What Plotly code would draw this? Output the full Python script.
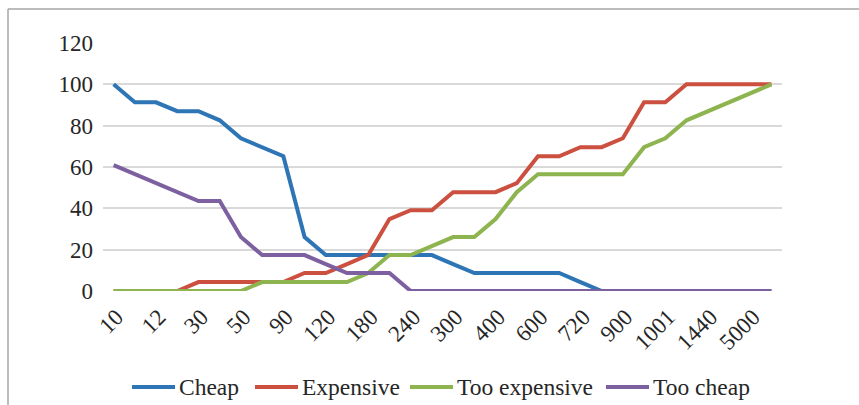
import plotly.graph_objects as go

categories = ["10", "11", "12", "20", "30", "40", "50", "60", "90", "100",
              "120", "150", "180", "200", "240", "250", "300", "360", "400", "500",
              "600", "700", "720", "800", "900", "1000", "1001", "1200", "1440", "2000",
              "5000", "10000"]
tick_labels = ["10", "12", "30", "50", "90", "120", "180", "240", "300", "400",
               "600", "720", "900", "1001", "1440", "5000"]

cheap = [100, 91.3, 91.3, 87.0, 87.0, 82.6, 73.9, 69.6, 65.2, 26.1,
         17.4, 17.4, 17.4, 17.4, 17.4, 17.4, 13.0, 8.7, 8.7, 8.7,
         8.7, 8.7, 4.3, 0, 0, 0, 0, 0, 0, 0, 0, 0]
expensive = [0, 0, 0, 0, 4.3, 4.3, 4.3, 4.3, 4.3, 8.7,
             8.7, 13.0, 17.4, 34.8, 39.1, 39.1, 47.8, 47.8, 47.8, 52.2,
             65.2, 65.2, 69.6, 69.6, 73.9, 91.3, 91.3, 100, 100, 100, 100, 100]
too_expensive = [0, 0, 0, 0, 0, 0, 0, 4.3, 4.3, 4.3,
                 4.3, 4.3, 8.7, 17.4, 17.4, 21.7, 26.1, 26.1, 34.8, 47.8,
                 56.5, 56.5, 56.5, 56.5, 56.5, 69.6, 73.9, 82.6, 87.0, 91.3, 95.7, 100]
too_cheap = [60.9, 56.5, 52.2, 47.8, 43.5, 43.5, 26.1, 17.4, 17.4, 17.4,
             13.0, 8.7, 8.7, 8.7, 0, 0, 0, 0, 0, 0,
             0, 0, 0, 0, 0, 0, 0, 0, 0, 0, 0, 0]

series_names = ["Cheap", "Expensive", "Too expensive", "Too cheap"]
series_values = [cheap, expensive, too_expensive, too_cheap]
series_colors = ["#2E75B6", "#CC5040", "#8DB44E", "#7D60A0"]

FONT = "'Liberation Serif', 'DejaVu Serif', 'Times New Roman', serif"
TXT = "#262626"

# plot-area geometry in pixels (for the frame and the legend)
L, R, T, B = 103, 782, 43, 291
W, H = R - L, B - T


def px(x):
    return (x - L) / W


def py(y):
    return (B - y) / H


fig = go.Figure()
for name, vals, color in zip(series_names, series_values, series_colors):
    fig.add_trace(go.Scatter(x=categories, y=vals, name=name, mode="lines",
                             line=dict(color=color, width=4), showlegend=False))

tick_vals = [categories[i] for i in range(0, len(categories), 2)]

shapes = [dict(type="line", xref="paper", yref="paper",
               x0=px(8), x1=px(870), y0=py(9), y1=py(9),
               line=dict(color="#A6A6A6", width=1.5)),
          dict(type="line", xref="paper", yref="paper",
               x0=px(8), x1=px(8), y0=py(9), y1=py(420),
               line=dict(color="#A6A6A6", width=1.5))]
annotations = []

# legend drawn as line swatches + text
legend_starts = [132, 255, 410, 606]
legend_y = 387
for name, color, x0 in zip(series_names, series_colors, legend_starts):
    shapes.append(dict(type="line", xref="paper", yref="paper",
                       x0=px(x0), x1=px(x0 + 43), y0=py(legend_y), y1=py(legend_y),
                       line=dict(color=color, width=4)))
    annotations.append(dict(xref="paper", yref="paper", x=px(x0 + 45), y=py(legend_y),
                            xanchor="left", yanchor="middle", showarrow=False,
                            text=name, font=dict(family=FONT, size=23.5, color=TXT)))

fig.update_layout(
    width=859, height=405,
    margin=dict(l=L, r=859 - R, t=T, b=405 - B),
    paper_bgcolor="white", plot_bgcolor="white",
    font=dict(family=FONT, size=22, color=TXT),
    showlegend=False,
    xaxis=dict(type="category", categoryorder="array", categoryarray=categories,
               range=[-0.5, len(categories) - 0.5], automargin=False,
               tickmode="array", tickvals=tick_vals, ticktext=tick_labels,
               tickangle=-45, showgrid=False, zeroline=False, showline=False,
               ticks="", ticklabelstandoff=7, ticklabelshift=3,
               tickfont=dict(family=FONT, size=23, color=TXT)),
    yaxis=dict(range=[0, 120], tickvals=[0, 20, 40, 60, 80, 100, 120],
               showgrid=True, gridcolor="#D9D9D9", gridwidth=1.5, automargin=False,
               zeroline=False, showline=False, ticks="", ticklabelstandoff=9,
               tickfont=dict(family=FONT, size=23, color=TXT)),
    shapes=shapes,
    annotations=annotations,
)

fig.write_html("out.html", config={"displayModeBar": False},
               post_script="document.body.style.margin='0';document.body.style.overflow='hidden';")
